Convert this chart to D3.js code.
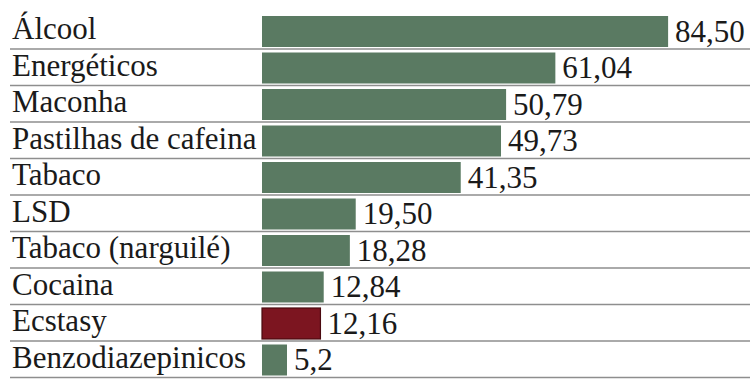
<!DOCTYPE html>
<html>
<head>
<meta charset="utf-8">
<script src="https://cdn.jsdelivr.net/npm/d3@7"></script>
<style>
  html, body { margin: 0; padding: 0; background: #fff; }
  svg { display: block; }
</style>
</head>
<body>
<svg id="chart" width="750" height="379"></svg>
<script>
// Substances and prevalence (%)
const categories = [
  "Álcool", "Energéticos", "Maconha", "Pastilhas de cafeina", "Tabaco",
  "LSD", "Tabaco (narguilé)", "Cocaina", "Ecstasy", "Benzodiazepinicos"
];
const values = [84.50, 61.04, 50.79, 49.73, 41.35, 19.50, 18.28, 12.84, 12.16, 5.2];
const valueLabels = ["84,50", "61,04", "50,79", "49,73", "41,35", "19,50", "18,28", "12,84", "12,16", "5,2"];
const highlighted = ["Ecstasy"];

const width = 750, height = 379;
const fontStack = "'Liberation Serif', 'Times New Roman', serif";
const svg = d3.select("#chart");

const x = d3.scaleLinear().domain([0, 100]).range([262, 742.6]);
const y = d3.scaleBand().domain(categories).range([12.5, 12.5 + 36.5 * categories.length]);

const data = categories.map((c, i) => ({ cat: c, value: values[i], label: valueLabels[i] }));

// row separators
svg.append("g")
  .selectAll("line")
  .data(data)
  .join("line")
  .attr("x1", 10)
  .attr("x2", width)
  .attr("y1", d => y(d.cat) + y.bandwidth())
  .attr("y2", d => y(d.cat) + y.bandwidth())
  .attr("stroke", "#8e8e8e")
  .attr("stroke-width", 1.6);

// bars
svg.append("g")
  .selectAll("rect")
  .data(data)
  .join("rect")
  .attr("x", x(0))
  .attr("y", d => y(d.cat) + 3.5)
  .attr("width", d => x(d.value) - x(0))
  .attr("height", y.bandwidth() - 5.5)
  .attr("fill", d => highlighted.includes(d.cat) ? "#7c1520" : "#5a7a62")
  .attr("stroke", d => highlighted.includes(d.cat) ? "#4a0a10" : "none")
  .attr("stroke-width", 1.2);

// category labels
svg.append("g")
  .selectAll("text")
  .data(data)
  .join("text")
  .attr("x", 12)
  .attr("y", d => y(d.cat) + 26.5)
  .style("font-family", fontStack)
  .style("font-size", "31px")
  .attr("fill", "#1a1a1a")
  .text(d => d.cat);

// value labels
svg.append("g")
  .selectAll("text")
  .data(data)
  .join("text")
  .attr("x", d => x(d.value) + 7)
  .attr("y", d => y(d.cat) + 29)
  .style("font-family", fontStack)
  .style("font-size", "31px")
  .attr("fill", "#1a1a1a")
  .text(d => d.label);
</script>
</body>
</html>
